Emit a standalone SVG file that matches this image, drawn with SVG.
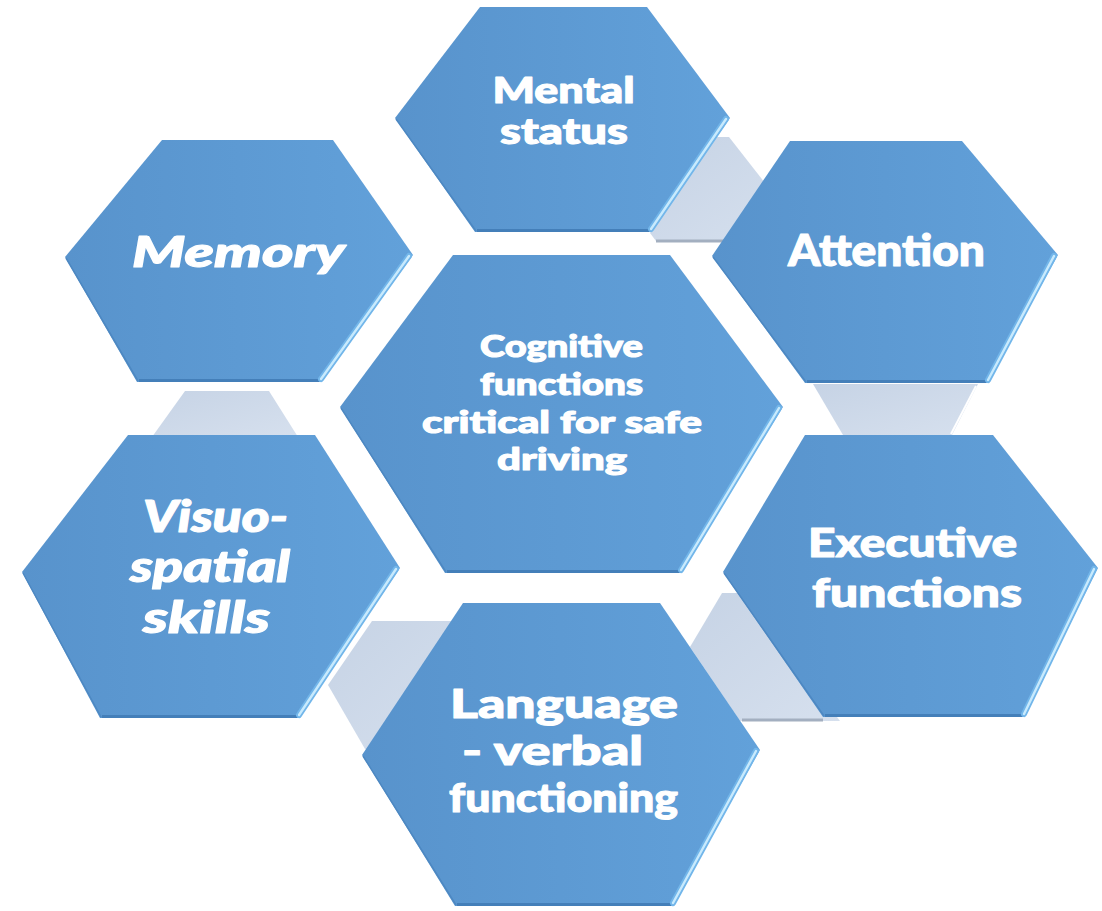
<svg xmlns="http://www.w3.org/2000/svg" width="1102" height="911" viewBox="0 0 1102 911">
<defs>
<linearGradient id="hexfill" x1="0" y1="0" x2="1" y2="0">
<stop offset="0" stop-color="#5893cc"/>
<stop offset="1" stop-color="#62a1da"/>
</linearGradient>
<linearGradient id="confill" x1="0" y1="0" x2="1" y2="1">
<stop offset="0" stop-color="#c6d3e5"/>
<stop offset="1" stop-color="#d6e0ee"/>
</linearGradient>
<style>
.hex{fill:url(#hexfill);}
.hl{stroke:#72b6ea;stroke-width:6;stroke-linecap:round;fill:none;}
.hl2{stroke:#c8eafd;stroke-width:2.4;stroke-linecap:round;fill:none;}
.bt{stroke:#447fb9;stroke-width:3;fill:none;}
.ll{stroke:#4d88c2;stroke-width:1.5;fill:none;}
.con{fill:url(#confill);}
.cb{stroke:#a3afc0;stroke-width:3;fill:none;}
.t{fill:#ffffff;stroke:#ffffff;stroke-width:1.1;stroke-linejoin:round;font-family:"Lato","Open Sans","DejaVu Sans",sans-serif;font-weight:900;text-anchor:middle;}
.it{font-style:italic;}
</style>
</defs>
<rect width="1102" height="911" fill="#ffffff"/>
<g id="connectors">
<polygon class="con" points="716,137 729,137 790,215 740,241 656,241 650,233"/>
<line class="cb" x1="656" y1="241" x2="725" y2="241"/>
<polygon class="con" points="813,384 978,384 952,435 843,435"/>
<line x1="976" y1="386" x2="951" y2="434" stroke="#ffffff" stroke-width="2"/>
<polygon class="con" points="185,391 269,391 298,437 152,437"/>
<polygon class="con" points="372,621 470,621 400,760 365,749 328,685"/>
<polygon class="con" points="722,593 745,593 840,721 740,721 690,647"/>
<line class="cb" x1="742" y1="720" x2="823" y2="720"/>
</g>
<g id="node-mental">
<polygon class="hex" points="395,118 480,7 647,7 730,118 650,232 475,232"/>
<line class="bt" x1="477" y1="230.5" x2="649" y2="230.5"/>
<line class="ll" x1="396" y1="119" x2="476" y2="231"/>
<line class="hl" x1="726" y1="119" x2="651" y2="229"/>
<line class="hl2" x1="726" y1="119" x2="651" y2="229"/>
<text class="t" x="563.5" y="103" font-size="36" textLength="142" lengthAdjust="spacingAndGlyphs">Mental</text>
<text class="t" x="564" y="144" font-size="36" textLength="128" lengthAdjust="spacingAndGlyphs">status</text>
</g>
<g id="node-attention">
<polygon class="hex" points="712,256 790,141 962,141 1058,255 987,383 805,383"/>
<line class="bt" x1="807" y1="381.5" x2="986" y2="381.5"/>
<line class="ll" x1="713" y1="257" x2="806" y2="382"/>
<line class="hl" x1="1054" y1="256" x2="988" y2="380"/>
<line class="hl2" x1="1054" y1="256" x2="988" y2="380"/>
<text class="t" x="886.5" y="266" font-size="43" textLength="197" lengthAdjust="spacingAndGlyphs">Attention</text>
</g>
<g id="node-center">
<polygon class="hex" points="340,407 453,255 670,255 783,407 680,573 445,573"/>
<line class="bt" x1="447" y1="571.5" x2="679" y2="571.5"/>
<line class="ll" x1="341" y1="408" x2="446" y2="572"/>
<line class="hl" x1="779" y1="408" x2="681" y2="570"/>
<line class="hl2" x1="779" y1="408" x2="681" y2="570"/>
<text class="t" x="561.5" y="357" font-size="31" textLength="163" lengthAdjust="spacingAndGlyphs">Cognitive</text>
<text class="t" x="561.5" y="395" font-size="31" textLength="163" lengthAdjust="spacingAndGlyphs">functions</text>
<text class="t" x="562" y="433" font-size="31" textLength="280" lengthAdjust="spacingAndGlyphs">critical for safe</text>
<text class="t" x="562" y="470" font-size="31" textLength="130" lengthAdjust="spacingAndGlyphs">driving</text>
</g>
<g id="node-executive">
<polygon class="hex" points="723,572 805,435 993,435 1098,568 1023,717 823,717"/>
<line class="bt" x1="825" y1="715.5" x2="1022" y2="715.5"/>
<line class="ll" x1="724" y1="573" x2="824" y2="716"/>
<line class="hl" x1="1094" y1="569" x2="1024" y2="714"/>
<line class="hl2" x1="1094" y1="569" x2="1024" y2="714"/>
<text class="t" x="912.5" y="557" font-size="40" textLength="209" lengthAdjust="spacingAndGlyphs">Executive</text>
<text class="t" x="917" y="607" font-size="40" textLength="210" lengthAdjust="spacingAndGlyphs">functions</text>
</g>
<g id="node-language">
<polygon class="hex" points="362,755 463,603 660,603 760,750 672,906 455,906"/>
<line class="bt" x1="457" y1="904.5" x2="671" y2="904.5"/>
<line class="ll" x1="363" y1="756" x2="456" y2="905"/>
<line class="hl" x1="756" y1="751" x2="673" y2="903"/>
<line class="hl2" x1="756" y1="751" x2="673" y2="903"/>
<text class="t" x="564" y="718" font-size="40" textLength="228" lengthAdjust="spacingAndGlyphs">Language</text>
<text class="t" x="552.5" y="765" font-size="40" textLength="181" lengthAdjust="spacingAndGlyphs">- verbal</text>
<text class="t" x="563.5" y="812" font-size="40" textLength="229" lengthAdjust="spacingAndGlyphs">functioning</text>
</g>
<g id="node-visuo">
<polygon class="hex" points="22,572 128,435 315,435 400,568 298,718 100,718"/>
<line class="bt" x1="102" y1="716.5" x2="297" y2="716.5"/>
<line class="ll" x1="23" y1="573" x2="101" y2="717"/>
<line class="hl" x1="396" y1="569" x2="299" y2="715"/>
<line class="hl2" x1="396" y1="569" x2="299" y2="715"/>
<text class="t it" x="215.5" y="532" font-size="43" textLength="145" lengthAdjust="spacingAndGlyphs">Visuo-</text>
<text class="t it" x="210" y="582" font-size="43" textLength="160" lengthAdjust="spacingAndGlyphs">spatial</text>
<text class="t it" x="206.5" y="633" font-size="43" textLength="127" lengthAdjust="spacingAndGlyphs">skills</text>
</g>
<g id="node-memory">
<polygon class="hex" points="65,257 162,140 333,140 413,255 320,382 137,382"/>
<line class="bt" x1="139" y1="380.5" x2="319" y2="380.5"/>
<line class="ll" x1="66" y1="258" x2="138" y2="381"/>
<line class="hl" x1="409" y1="256" x2="321" y2="379"/>
<line class="hl2" x1="409" y1="256" x2="321" y2="379"/>
<text class="t it" x="238.5" y="267" font-size="42" textLength="213" lengthAdjust="spacingAndGlyphs">Memory</text>
</g>
</svg>
